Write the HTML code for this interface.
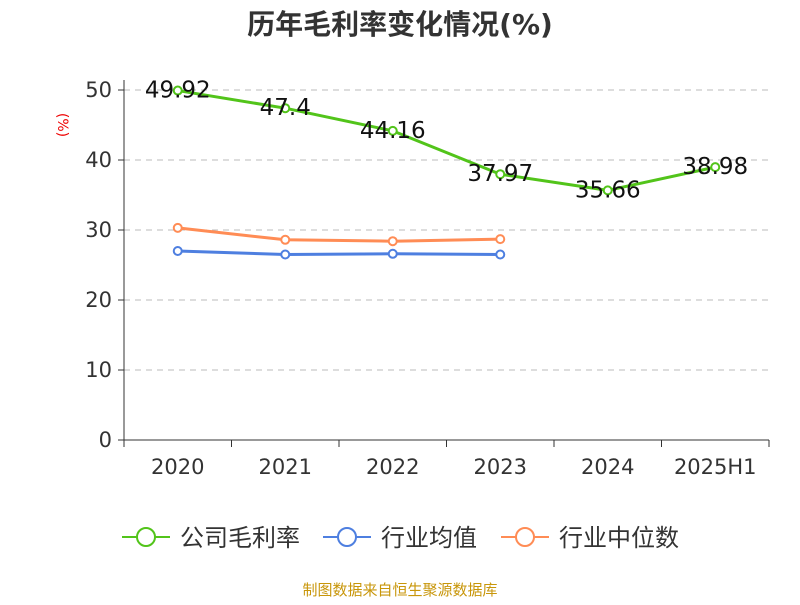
<!DOCTYPE html>
<html><head><meta charset="utf-8"><style>
body{margin:0;background:#fff;}
svg text{font-family:"DejaVu Sans","Noto Sans CJK SC",sans-serif;}
</style></head><body>
<svg width="800" height="600">
<text x="400" y="34" text-anchor="middle" font-size="28" font-weight="bold" fill="#333">历年毛利率变化情况(%)</text>
<text x="58" y="125" text-anchor="middle" font-size="14" fill="#e00" transform="rotate(90 58 125)">(%)</text>
<g id="grid"></g><g id="axes"></g><g id="series"></g>
<g>
<g><line x1="122" y1="537" x2="170" y2="537" stroke="#52c41a" stroke-width="2"/><circle cx="146" cy="537" r="9" fill="#fff" stroke="#52c41a" stroke-width="2"/><text x="180" y="546" font-size="24" fill="#333">公司毛利率</text></g>
<g><line x1="323" y1="537" x2="371" y2="537" stroke="#4e7fe0" stroke-width="2"/><circle cx="347" cy="537" r="9" fill="#fff" stroke="#4e7fe0" stroke-width="2"/><text x="381" y="546" font-size="24" fill="#333">行业均值</text></g>
<g><line x1="501" y1="537" x2="549" y2="537" stroke="#ff8c55" stroke-width="2"/><circle cx="525" cy="537" r="9" fill="#fff" stroke="#ff8c55" stroke-width="2"/><text x="559" y="546" font-size="24" fill="#333">行业中位数</text></g>
</g>
<text x="400" y="595" text-anchor="middle" font-size="15" fill="#c8960a">制图数据来自恒生聚源数据库</text>
</svg>
<script>
const categories=["2020","2021","2022","2023","2024","2025H1"];
const company=[49.92,47.4,44.16,37.97,35.66,38.98];
const industryAvg=[27.0,26.5,26.6,26.5];
const industryMedian=[30.3,28.6,28.4,28.7];
const yTicks=[0,10,20,30,40,50];
const NS="http://www.w3.org/2000/svg";
const x0=124,x1=769,y0=440,y1=90;
const bw=(x1-x0)/categories.length;
const xs=i=>x0+bw*(i+0.5);
const ys=v=>y0-(v/50)*(y0-y1);
function mk(t,a,p){const e=document.createElementNS(NS,t);for(const k in a)e.setAttribute(k,a[k]);p.appendChild(e);return e;}
const grid=document.getElementById('grid'),axes=document.getElementById('axes'),ser=document.getElementById('series');
yTicks.forEach(v=>{
 if(v>0){const g=mk('line',{x1:x0,x2:x1,y1:ys(v),y2:ys(v),stroke:'#bbb','stroke-dasharray':'6,5'},grid);
 
 }
 const tk=mk('line',{x1:x0-6,x2:x0,y1:ys(v),y2:ys(v),stroke:'#333'},axes);
 
 
 const t=mk('text',{x:x0-12,y:ys(v)+7,'text-anchor':'end','font-size':21,fill:'#333'},axes);t.textContent=v;
 
 
});
const ya=mk('line',{x1:x0,x2:x0,y1:y1-10,y2:y0,stroke:'#333'},axes);


const xa=mk('line',{x1:x0,x2:x1,y1:y0,y2:y0,stroke:'#333'},axes);


for(let i=0;i<=categories.length;i++){const l=mk('line',{x1:x0+bw*i,x2:x0+bw*i,y1:y0,y2:y0+7,stroke:'#333'},axes);
 
 }
categories.forEach((c,i)=>{const t=mk('text',{x:xs(i),y:y0+34,'text-anchor':'middle','font-size':21,fill:'#333'},axes);t.textContent=c;
 
 });
function line(data,color,name,labels){
 const g=mk('g',{},ser);
 
 
 mk('polyline',{points:data.map((v,i)=>xs(i)+','+ys(v)).join(' '),fill:'none',stroke:color,'stroke-width':3,'stroke-linejoin':'round'},g);
 data.forEach((v,i)=>{const c=mk('circle',{cx:xs(i),cy:ys(v),r:4,fill:'#fff',stroke:color,'stroke-width':2},g);
  
  
  if(labels){const t=mk('text',{x:xs(i),y:ys(v)+7,'text-anchor':'middle','font-size':23,fill:'#111'},g);t.textContent=v;
   
   }});
}
line(industryAvg,'#4e7fe0','industry-avg-line',false);
line(industryMedian,'#ff8c55','industry-median-line',false);
line(company,'#52c41a','company-margin-line',true);
</script>
</body></html>
